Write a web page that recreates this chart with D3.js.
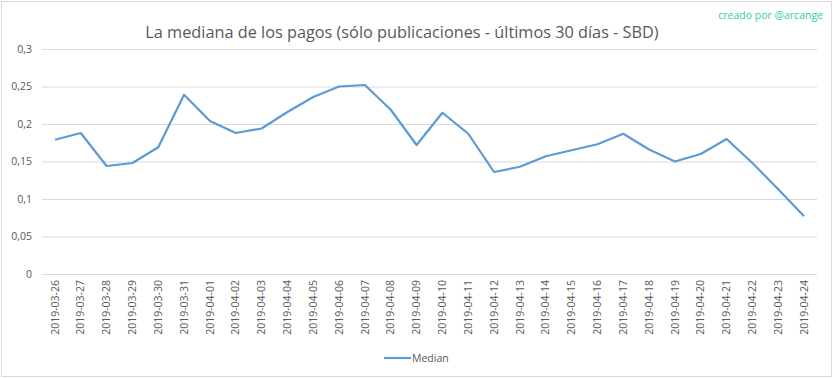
<!DOCTYPE html>
<html>
<head>
<meta charset="utf-8">
<script src="https://cdn.jsdelivr.net/npm/d3@7"></script>
<style>
  body { margin: 0; background: #fff; }
  text { font-family: "Open Sans", "Noto Sans", sans-serif; }
</style>
</head>
<body>
<div id="chart"></div>
<script>
// dates on the x axis
var dates = ["2019-03-26", "2019-03-27", "2019-03-28", "2019-03-29", "2019-03-30", "2019-03-31",
  "2019-04-01", "2019-04-02", "2019-04-03", "2019-04-04", "2019-04-05", "2019-04-06",
  "2019-04-07", "2019-04-08", "2019-04-09", "2019-04-10", "2019-04-11", "2019-04-12",
  "2019-04-13", "2019-04-14", "2019-04-15", "2019-04-16", "2019-04-17", "2019-04-18",
  "2019-04-19", "2019-04-20", "2019-04-21", "2019-04-22", "2019-04-23", "2019-04-24"];

// median payout (SBD)
var median = [0.179, 0.188, 0.144, 0.148, 0.169, 0.239, 0.204, 0.188, 0.194, 0.216,
  0.236, 0.250, 0.252, 0.219, 0.172, 0.215, 0.187, 0.136, 0.143, 0.157,
  0.165, 0.173, 0.187, 0.166, 0.150, 0.160, 0.180, 0.148, 0.113, 0.077];

var y_ticks = [0, 0.05, 0.1, 0.15, 0.2, 0.25, 0.3];

chart_width = 833
chart_height = 378
plot_left = 42
plot_right = 817
plot_top = 49
plot_bottom = 274

var svg = d3.select('#chart')
  .append('svg')
  .attr('width', chart_width)
  .attr('height', chart_height)

// outer border
svg.append('rect')
  .attr('x', 1.5).attr('y', 1.5)
  .attr('width', chart_width - 3).attr('height', chart_height - 3)
  .attr('fill', '#fff')
  .attr('stroke', '#d9d9d9')

// scales
x_scale = d3.scaleBand()
  .domain(dates)
  .range([plot_left, plot_right])

y_scale = d3.scaleLinear()
  .domain([0, 0.3])
  .range([plot_bottom, plot_top])

var fmt = d3.formatLocale({decimal: ",", thousands: ".", grouping: [3], currency: ["", ""]}).format("~g");

// gridlines + y labels
var y_axis = svg.append('g')
  .attr('transform', 'translate(' + plot_left + ',0)')
  .call(d3.axisLeft(y_scale)
    .tickValues(y_ticks)
    .tickSize(-(plot_right - plot_left))
    .tickPadding(10)
    .tickFormat(fmt))
y_axis.select('.domain').remove()
y_axis.selectAll('line').attr('stroke', '#d9d9d9')
y_axis.selectAll('text')
  .attr('fill', '#595959')
  .style('font-size', '10.5px')

// x labels, rotated
var x_axis = svg.append('g')
  .attr('transform', 'translate(0,' + plot_bottom + ')')
  .call(d3.axisBottom(x_scale).tickSize(0))
x_axis.select('.domain').remove()
x_axis.selectAll('text')
  .attr('fill', '#595959')
  .style('font-size', '10.5px')
  .attr('text-anchor', 'end')
  .attr('transform', 'rotate(-90)')
  .attr('x', -6)
  .attr('y', 0)
  .attr('dy', '0.35em')

// line
var line = d3.line()
  .x(function(d, i) { return x_scale(dates[i]) + x_scale.bandwidth() / 2; })
  .y(function(d) { return y_scale(d); })

svg.append('path')
  .datum(median)
  .attr('d', line)
  .attr('fill', 'none')
  .attr('stroke', '#5b9bd5')
  .attr('stroke-width', 2.2)
  .attr('stroke-linejoin', 'round')

// title
svg.append('text')
  .attr('x', 402)
  .attr('y', 38)
  .attr('text-anchor', 'middle')
  .attr('fill', '#595959')
  .style('font-size', '16.3px')
  .text('La mediana de los pagos (sólo publicaciones - últimos 30 días - SBD)')

svg.append('text')
  .attr('x', 823)
  .attr('y', 19)
  .attr('text-anchor', 'end')
  .attr('fill', '#2fcf9f')
  .style('font-size', '10.5px')
  .text('creado por @arcange')

// legend
svg.append('line')
  .attr('x1', 384).attr('x2', 411)
  .attr('y1', 358).attr('y2', 358)
  .attr('stroke', '#5b9bd5')
  .attr('stroke-width', 2.2)
svg.append('text')
  .attr('x', 412)
  .attr('y', 362)
  .attr('fill', '#595959')
  .style('font-size', '10.5px')
  .text('Median')
</script>
</body>
</html>
